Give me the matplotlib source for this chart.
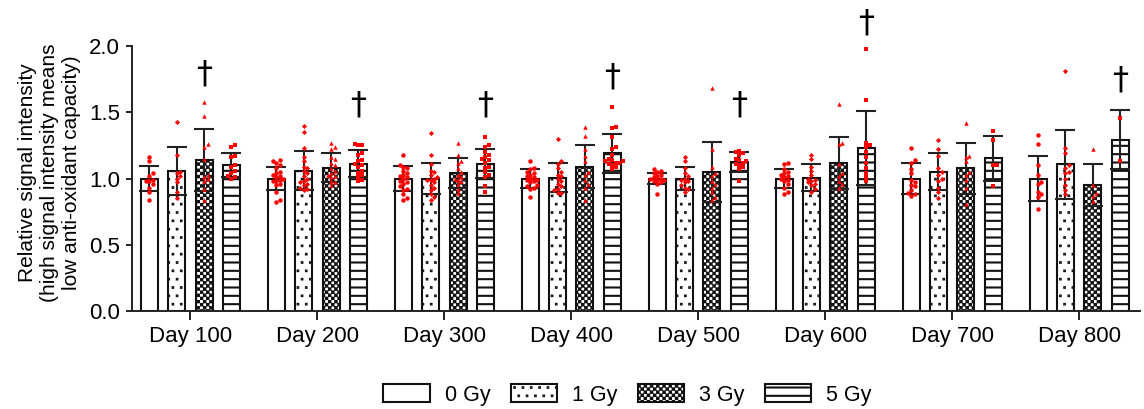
import numpy as np
import matplotlib
matplotlib.use("Agg")
import matplotlib.pyplot as plt
import matplotlib.hatch as mhatch
from matplotlib.path import Path
from matplotlib.patches import Patch

days = ["Day 100", "Day 200", "Day 300", "Day 400", "Day 500", "Day 600", "Day 700", "Day 800"]
doses = ["0 Gy", "1 Gy", "3 Gy", "5 Gy"]

mean_0 = [1.0, 1.0, 1.0, 1.0, 1.0, 1.0, 1.0, 1.0]
mean_1 = [1.057, 1.06, 1.0, 1.006, 1.0, 1.007, 1.051, 1.107]
mean_3 = [1.14, 1.082, 1.039, 1.089, 1.051, 1.12, 1.077, 0.951]
mean_5 = [1.10, 1.112, 1.112, 1.19, 1.122, 1.228, 1.152, 1.293]

sd_0 = [0.094, 0.089, 0.094, 0.069, 0.044, 0.072, 0.114, 0.17]
sd_1 = [0.181, 0.15, 0.12, 0.108, 0.085, 0.102, 0.139, 0.261]
sd_3 = [0.231, 0.108, 0.113, 0.164, 0.227, 0.196, 0.191, 0.161]
sd_5 = [0.09, 0.103, 0.108, 0.146, 0.075, 0.279, 0.168, 0.224]

# individual animals, one list per day
pts_0 = [
    [1.16, 1.13, 1.04, 1.02, 0.99, 0.98, 0.98, 0.96, 0.93, 0.90, 0.84],
    [1.14, 1.13, 1.12, 1.10, 1.08, 1.05, 1.04, 1.03, 1.02, 1.01, 1.00, 0.99, 0.98, 0.98, 0.96, 0.95, 0.90, 0.84, 0.82],
    [1.18, 1.10, 1.09, 1.08, 1.06, 1.04, 1.03, 1.02, 1.01, 1.0, 0.98, 0.97, 0.96, 0.94, 0.92, 0.91, 0.88, 0.85, 0.84],
    [1.13, 1.08, 1.07, 1.05, 1.04, 1.03, 1.02, 1.01, 1.0, 0.99, 0.99, 0.98, 0.97, 0.95, 0.94, 0.93, 0.92, 0.86],
    [1.07, 1.06, 1.05, 1.04, 1.03, 1.02, 1.01, 1.0, 1.0, 0.99, 0.99, 0.98, 0.97, 0.96, 0.88],
    [1.12, 1.11, 1.07, 1.05, 1.04, 1.03, 1.02, 1.01, 1.0, 0.99, 0.98, 0.96, 0.93, 0.90, 0.88],
    [1.23, 1.14, 1.12, 1.07, 1.04, 0.99, 0.97, 0.95, 0.94, 0.91, 0.89, 0.88, 0.87],
    [1.33, 1.26, 1.10, 1.03, 0.97, 0.96, 0.90, 0.88, 0.86, 0.77],
]
pts_1 = [
    [1.43, 1.18, 1.05, 1.04, 1.02, 1.0, 0.97, 0.90, 0.85],
    [1.40, 1.35, 1.23, 1.16, 1.13, 1.09, 1.08, 1.06, 1.04, 1.02, 1.0, 0.98, 0.97, 0.96, 0.95, 0.93, 0.92, 0.91],
    [1.34, 1.18, 1.11, 1.06, 1.05, 1.03, 1.01, 1.0, 0.99, 0.99, 0.97, 0.95, 0.93, 0.91, 0.88, 0.86, 0.84],
    [1.30, 1.13, 1.11, 1.08, 1.05, 1.03, 1.02, 1.0, 0.98, 0.96, 0.94, 0.92, 0.91, 0.89, 0.89],
    [1.16, 1.13, 1.08, 1.04, 1.02, 1.0, 0.99, 0.98, 0.97, 0.95, 0.93, 0.92, 0.90],
    [1.18, 1.15, 1.09, 1.06, 1.03, 1.0, 0.99, 0.98, 0.97, 0.96, 0.95, 0.92, 0.90],
    [1.29, 1.22, 1.17, 1.08, 1.05, 1.03, 1.0, 0.98, 0.93, 0.90, 0.85],
    [1.81, 1.23, 1.19, 1.10, 1.08, 1.05, 1.04, 1.00, 0.95, 0.91, 0.88],
]
pts_3 = [
    [1.58, 1.47, 1.26, 1.24, 1.15, 1.03, 1.01, 1.0, 0.98, 0.92, 0.84],
    [1.27, 1.24, 1.22, 1.16, 1.15, 1.12, 1.10, 1.08, 1.06, 1.04, 1.03, 1.02, 1.01, 0.98, 0.97, 0.95],
    [1.27, 1.18, 1.13, 1.12, 1.08, 1.05, 1.03, 1.01, 1.0, 0.99, 0.98, 0.96, 0.92, 0.89],
    [1.39, 1.32, 1.22, 1.17, 1.13, 1.05, 1.03, 0.99, 0.96, 0.93, 0.84],
    [1.68, 1.22, 1.09, 1.04, 1.02, 0.98, 0.96, 0.93, 0.90, 0.86, 0.84],
    [1.56, 1.27, 1.26, 1.11, 1.04, 1.02, 0.98, 0.96, 0.93],
    [1.42, 1.17, 1.16, 1.13, 1.05, 1.03, 0.99, 0.93, 0.81],
    [1.22, 0.95, 0.89, 0.87, 0.83],
]
pts_5 = [
    [1.25, 1.24, 1.17, 1.16, 1.10, 1.09, 1.06, 1.04, 1.02, 1.01, 1.00],
    [1.26, 1.25, 1.25, 1.19, 1.18, 1.14, 1.13, 1.11, 1.10, 1.09, 1.06, 1.04, 1.03, 1.01, 0.99, 0.98],
    [1.31, 1.25, 1.24, 1.20, 1.18, 1.16, 1.15, 1.14, 1.12, 1.09, 1.08, 1.05, 1.03, 1.01, 0.94, 0.90],
    [1.54, 1.39, 1.38, 1.31, 1.24, 1.22, 1.18, 1.15, 1.14, 1.13, 1.13, 1.12, 1.12, 1.11, 1.10, 1.09, 1.07],
    [1.21, 1.20, 1.19, 1.18, 1.15, 1.14, 1.13, 1.12, 1.11, 1.10, 1.09, 1.07, 0.98],
    [1.98, 1.59, 1.27, 1.25, 1.24, 1.20, 1.16, 1.12, 1.08, 1.04, 1.01, 0.98],
    [1.36, 1.29, 1.10, 1.10, 0.94],
    [1.46, 1.13],
]

# significance marks: (day index, dose index, height of mark)
dagger_day = [0, 1, 2, 3, 4, 5, 7]
dagger_dose = [2, 3, 3, 3, 3, 3, 3]
dagger_y = [1.67, 1.44, 1.44, 1.65, 1.44, 2.06, 1.63]

SQ_CODES = [Path.MOVETO, Path.LINETO, Path.LINETO, Path.LINETO, Path.CLOSEPOLY]


# matplotlib has no checkerboard, so the '*' hatch is swapped for one
class Checker(mhatch.HatchPatternBase):
    def __init__(self, hatch, density):
        self.n = 32 if '*' in hatch else 0
        self.num_vertices = (self.n * self.n // 2) * 5

    def set_vertices_and_codes(self, vertices, codes):
        n = self.n
        s = 1.0 / n
        sh = 0.0085  # the hatch stroke adds this back
        sq = []
        for r in range(n):
            for c in range(n):
                if (r + c) % 2 == 0:
                    x0, y0 = c * s + sh, r * s + sh
                    x1, y1 = (c + 1) * s - sh, (r + 1) * s - sh
                    sq.append([(x0, y0), (x1, y0), (x1, y1), (x0, y1), (x0, y0)])
        vertices[:] = np.array(sq).reshape(-1, 2)
        codes[:] = np.tile(SQ_CODES, len(sq))


# small sparse dots for '.', staggered rows like the prism pattern
class Dots(mhatch.HatchPatternBase):
    def __init__(self, hatch, density):
        self.n = 12 if '.' in hatch else 0
        self.num_vertices = self.n * self.n * 5

    def set_vertices_and_codes(self, vertices, codes):
        n = self.n
        s = 1.0 / n
        d = 0.003
        sq = []
        for r in range(n):
            for c in range(n):
                cx = c * s + (s / 2 if r % 2 else 0) + s / 4
                cy = r * s + s / 2
                sq.append([(cx - d, cy - d), (cx + d, cy - d), (cx + d, cy + d), (cx - d, cy + d), (cx - d, cy - d)])
        vertices[:] = np.array(sq).reshape(-1, 2)
        codes[:] = np.tile(SQ_CODES, len(sq))


swap = {mhatch.Stars: Checker, mhatch.SmallFilledCircles: Dots}
mhatch._hatch_types = [swap.get(t, t) for t in mhatch._hatch_types]

plt.rcParams['font.family'] = ['Liberation Sans', 'DejaVu Sans']
plt.rcParams['hatch.linewidth'] = 1.5
plt.rcParams['hatch.color'] = '#111111'


def swarm(vals, step=0.027, dy=0.03):
    vals = np.asarray(vals)
    xs = np.zeros(len(vals))
    placed = []
    for i in np.argsort(vals):
        v = vals[i]
        for k in [0, 1, -1, 2, -2, 3, -3]:
            x = k * step
            if all(abs(x - px) > step * 0.9 or abs(v - py) > dy for px, py in placed):
                break
        xs[i] = x
        placed.append((x, v))
    return xs


fig = plt.figure(figsize=(11.44, 4.09), dpi=100)
ax = fig.add_axes([0.1154, 0.2396, 0.8811, 0.6479])

x = np.arange(len(days))
offsets = [-0.323, -0.108, 0.108, 0.323]
width = 0.134
hatches = ['', '.', '*', '--']
markers = ['o', 'D', '^', 's']
msizes = [3.2, 2.6, 3.2, 3.0]
means = [mean_0, mean_1, mean_3, mean_5]
sds = [sd_0, sd_1, sd_3, sd_5]
points = [pts_0, pts_1, pts_3, pts_5]

for j in range(4):
    xj = x + offsets[j]
    ax.bar(xj, means[j], width=width, facecolor='white', edgecolor='#111111',
           linewidth=1.5, hatch=hatches[j], zorder=2)
    ax.errorbar(xj, means[j], yerr=sds[j], fmt='none', ecolor='#222222',
                elinewidth=1.5, capsize=7, capthick=1.5, zorder=3)
    for i in range(len(days)):
        vals = points[j][i]
        ax.plot(xj[i] + swarm(vals), vals, linestyle='none', marker=markers[j],
                ms=msizes[j], color='red', markeredgewidth=0, zorder=4)

for d, k, yy in zip(dagger_day, dagger_dose, dagger_y):
    ax.text(x[d] + offsets[k], yy, '\u2020', ha='center', va='bottom',
            fontsize=23, family='DejaVu Sans', clip_on=False)

ax.set_xlim(-0.46, 7.48)
ax.set_ylim(0, 2.0)
ax.set_yticks([0, 0.5, 1.0, 1.5, 2.0])
ax.set_yticklabels(['0.0', '0.5', '1.0', '1.5', '2.0'])
ax.set_xticks(x)
ax.set_xticklabels(days)
ax.spines['top'].set_visible(False)
ax.spines['right'].set_visible(False)
for s in ['left', 'bottom']:
    ax.spines[s].set_linewidth(1.4)
    ax.spines[s].set_color('#222222')
ax.tick_params(axis='y', length=4.5, width=1.4, labelsize=16, pad=4, color='#222222')
ax.tick_params(axis='x', length=6.5, width=1.4, labelsize=16, pad=4, color='#222222')

fig.text(0.043, 0.578, "Relative signal intensity\n(high signal intensity means\nlow anti-oxidant capacity)",
         rotation=90, ha='center', va='center', multialignment='center', fontsize=15)

handles = [Patch(facecolor='white', edgecolor='#111111', linewidth=1.5, hatch=h, label=l)
           for h, l in zip(hatches, doses)]
fig.legend(handles=handles, loc='center', bbox_to_anchor=(0.5485, 0.034), ncol=4,
           frameon=False, fontsize=15.5, handlelength=2.15, handleheight=0.9,
           handletextpad=0.7, columnspacing=0.95)

fig.savefig('out.png', dpi=100)
